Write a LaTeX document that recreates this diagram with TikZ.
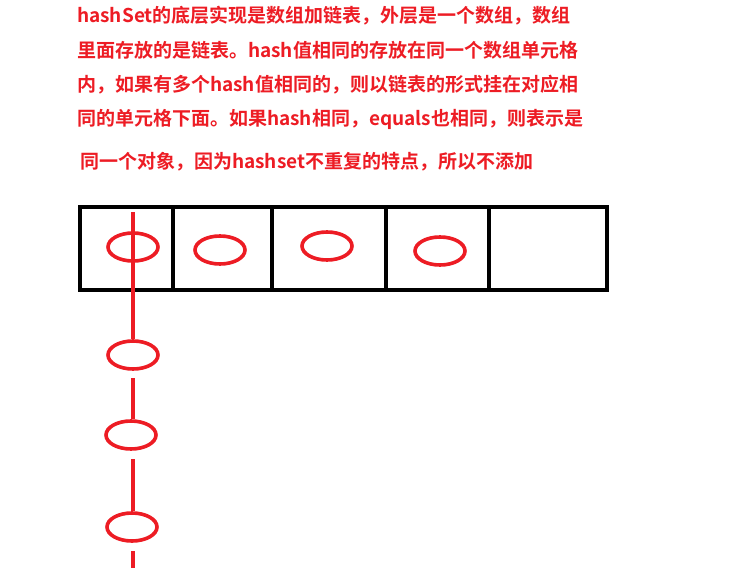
\documentclass[tikz,border=0pt]{standalone}
\usepackage{fontspec}
\usetikzlibrary{shapes.geometric}
\newfontfamily\cjkbold{Noto Sans CJK SC Bold}
\definecolor{paintred}{HTML}{ED1C24}
\begin{document}
\begin{tikzpicture}[x=1pt,y=-1pt,
  note/.style={anchor=west,inner sep=0pt,text=paintred,font=\cjkbold\fontsize{19}{21}\selectfont},
  cellbox/.style={draw=black,line width=4pt},
  entry/.style={draw=paintred,line width=3.6pt,ellipse,minimum width=50pt,minimum height=28pt,inner sep=0pt},
  chain/.style={draw=paintred,line width=3.6pt}]
\useasboundingbox[fill=white] (0,0) rectangle (747,583);

% explanatory text
\node[note] (t1) at (77,16) {hashSet的底层实现是数组加链表，外层是一个数组，数组};
\node[note] (t2) at (77,50) {里面存放的是链表。hash值相同的存放在同一个数组单元格};
\node[note] (t3) at (77,85) {内，如果有多个hash值相同的，则以链表的形式挂在对应相};
\node[note] (t4) at (77,119) {同的单元格下面。如果hash相同，equals也相同，则表示是};
\node[note] (t5) at (80,162) {同一个对象，因为hashset不重复的特点，所以不添加};

% the array of buckets
\draw[cellbox] (80,207) rectangle (607,290);
\draw[cellbox] (173,207) -- (173,292);
\draw[cellbox] (272,207) -- (272,290);
\draw[cellbox] (386,207) -- (386,290);
\draw[cellbox] (489,207) -- (489,290);

% entries stored in the buckets
\node[entry] (e1) at (133,247) {};
\node[entry] (e2) at (220,250) {};
\node[entry] (e3) at (327,246) {};
\node[entry] (e4) at (440,251) {};

% linked list hanging below the first bucket
\node[entry] (l1) at (133,355) {};
\node[entry] (l2) at (131,435) {};
\node[entry] (l3) at (132,527) {};
\coordinate (top) at (133,212);
\coordinate (tail) at (133,568);
\coordinate (s1) at (133,378);
\coordinate (s2) at (133,459);
\coordinate (s3) at (133,551);

\draw[chain] (top) -- (l1.north);
\draw[chain] (s1) -- (l2.north -| s1);
\draw[chain] (s2) -- (l3.north -| s2);
\draw[chain] (s3) -- (tail);
\end{tikzpicture}
\end{document}
